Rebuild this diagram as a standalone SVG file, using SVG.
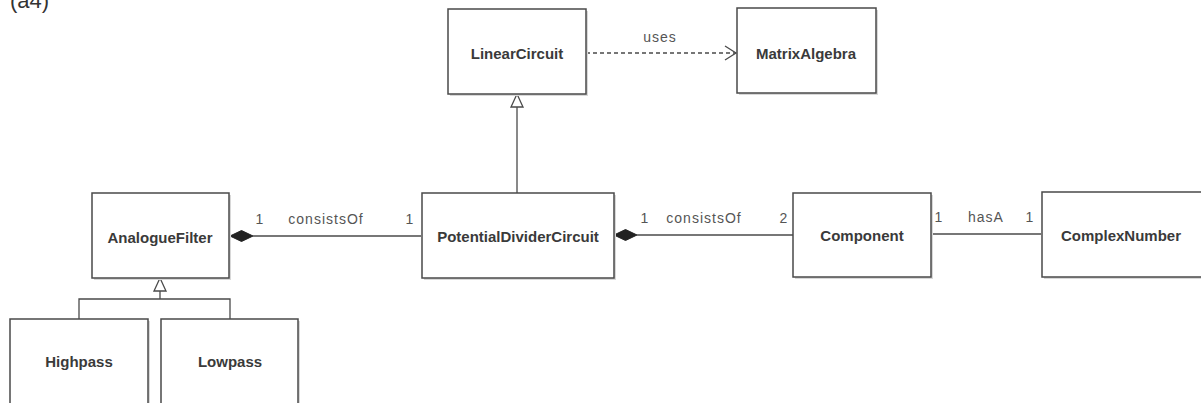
<svg xmlns="http://www.w3.org/2000/svg" width="1201" height="403" viewBox="0 0 1201 403">
<style>
.box{fill:#fff;stroke:#4a4a4a;stroke-width:1.5}
.sh{fill:#d8d8d8}
.name{font-family:"Liberation Sans",Arial,sans-serif;font-weight:bold;font-size:15px;fill:#3a3a3a;text-anchor:middle}
.lbl{font-family:"Liberation Sans",Arial,sans-serif;font-size:14px;letter-spacing:1px;fill:#555;text-anchor:middle}
.ln{stroke:#4a4a4a;stroke-width:1.3;fill:none}
.dash{stroke:#4a4a4a;stroke-width:1.3;fill:none;stroke-dasharray:4,3}
.tri{fill:#fff;stroke:#4a4a4a;stroke-width:1.3}
.dia{fill:#222;stroke:#222;stroke-width:1}
</style>
<text x="10" y="8" font-family="Liberation Sans,Arial,sans-serif" font-size="22" fill="#333">(a4)</text>
<g id="connectors">
<path class="dash" d="M586,53 L736,53"/>
<path class="ln" d="M725,46 L736,53 L725,60"/>
<text class="lbl" x="660" y="42">uses</text>
<path class="ln" d="M517,193 L517,107"/>
<path class="tri" d="M517,94 L523,107 L511,107 Z"/>
<path class="ln" d="M253,236 L421,236"/>
<path class="dia" d="M230,236 L241.5,230.5 L253,236 L241.5,241.5 Z"/>
<text class="lbl" x="260" y="224">1</text>
<text class="lbl" x="326" y="224">consistsOf</text>
<text class="lbl" x="410" y="224">1</text>
<path class="ln" d="M637,235 L793,235"/>
<path class="dia" d="M614,235 L625.5,229.5 L637,235 L625.5,240.5 Z"/>
<text class="lbl" x="645" y="223">1</text>
<text class="lbl" x="704" y="223">consistsOf</text>
<text class="lbl" x="784" y="223">2</text>
<path class="ln" d="M931,234 L1041,234"/>
<text class="lbl" x="939" y="222">1</text>
<text class="lbl" x="986" y="222">hasA</text>
<text class="lbl" x="1030" y="222">1</text>
<path class="ln" d="M160,291 L160,299 M79,319 L79,299 L230,299 L230,319"/>
<path class="tri" d="M160,278 L166,291 L154,291 Z"/>
</g>
<g id="LinearCircuit">
<rect class="sh" x="450" y="11" width="138" height="85"/>
<rect class="box" x="448" y="9" width="138" height="85"/>
<text class="name" x="517" y="59">LinearCircuit</text>
</g>
<g id="MatrixAlgebra">
<rect class="sh" x="739" y="10" width="139" height="85"/>
<rect class="box" x="737" y="8" width="139" height="85"/>
<text class="name" x="806" y="59">MatrixAlgebra</text>
</g>
<g id="AnalogueFilter">
<rect class="sh" x="94" y="195" width="137" height="85"/>
<rect class="box" x="92" y="193" width="137" height="85"/>
<text class="name" x="160" y="243">AnalogueFilter</text>
</g>
<g id="PotentialDividerCircuit">
<rect class="sh" x="424" y="195" width="192" height="85"/>
<rect class="box" x="422" y="193" width="192" height="85"/>
<text class="name" x="518" y="242">PotentialDividerCircuit</text>
</g>
<g id="Component">
<rect class="sh" x="795" y="195" width="138" height="84"/>
<rect class="box" x="793" y="193" width="138" height="84"/>
<text class="name" x="862" y="241">Component</text>
</g>
<g id="ComplexNumber">
<rect class="sh" x="1044" y="194" width="160" height="85"/>
<rect class="box" x="1042" y="192" width="160" height="85"/>
<text class="name" x="1121" y="241">ComplexNumber</text>
</g>
<g id="Highpass">
<rect class="sh" x="12" y="321" width="138" height="90"/>
<rect class="box" x="10" y="319" width="138" height="90"/>
<text class="name" x="79" y="367">Highpass</text>
</g>
<g id="Lowpass">
<rect class="sh" x="163" y="321" width="137" height="90"/>
<rect class="box" x="161" y="319" width="137" height="90"/>
<text class="name" x="230" y="367">Lowpass</text>
</g>
</svg>
